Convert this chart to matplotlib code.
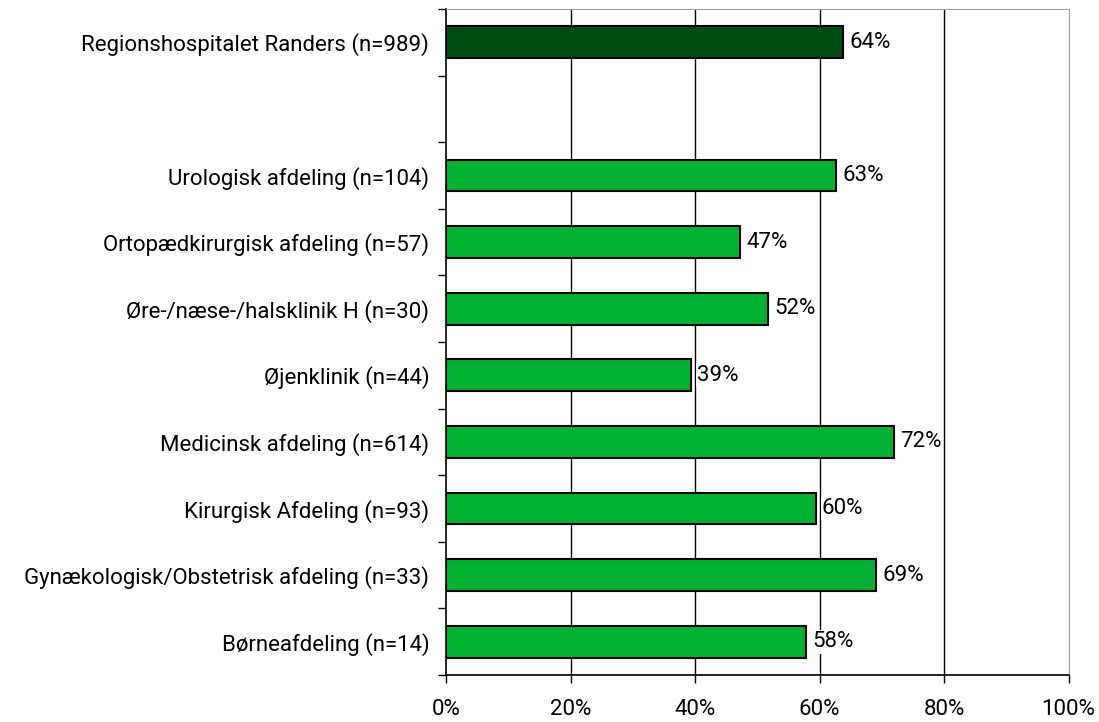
import numpy as np
import matplotlib.pyplot as plt
from matplotlib.ticker import FixedLocator, PercentFormatter

plt.rcParams['font.family'] = ['Roboto', 'DejaVu Sans']

# kategorier fra top til bund ('' = tom plads)
labels = ['Regionshospitalet Randers (n=989)', '',
          'Urologisk afdeling (n=104)',
          'Ortopædkirurgisk afdeling (n=57)',
          'Øre-/næse-/halsklinik H (n=30)',
          'Øjenklinik (n=44)',
          'Medicinsk afdeling (n=614)',
          'Kirurgisk Afdeling (n=93)',
          'Gynækologisk/Obstetrisk afdeling (n=33)',
          'Børneafdeling (n=14)']
values = [63.8, None, 62.7, 47.3, 51.8, 39.3, 72.0, 59.4, 69.1, 57.9]
value_text = ['64%', '', '63%', '47%', '52%', '39%', '72%', '60%', '69%', '58%']
colors = ['#004d14', None] + ['#00b032'] * 8

fig = plt.figure(figsize=(10.99, 7.22), dpi=100)
ax = fig.add_axes([446 / 1099, 47 / 722, 622.5 / 1099, 666 / 722])

fs = 16
n = len(labels)
ypos = np.arange(n)[::-1]
for y, v, c, t in zip(ypos, values, colors, value_text):
    if v is None:
        continue
    ax.barh(y, v, height=0.48, color=c, edgecolor='black', linewidth=1.5, zorder=3)
    ax.text(v + 1.0, y, t, va='center', ha='left', fontsize=fs,
            bbox=dict(facecolor='white', edgecolor='none', pad=1), zorder=4)

ax.set_xlim(0, 100)
ax.set_ylim(-0.5, n - 0.5)
ax.set_xticks(np.arange(0, 101, 20))
ax.xaxis.set_major_formatter(PercentFormatter(decimals=0))
ax.set_yticks(ypos)
ax.set_yticklabels(labels, fontsize=fs)
ax.yaxis.set_minor_locator(FixedLocator(np.arange(-0.5, n, 1)))
ax.tick_params(axis='y', which='major', length=0, pad=12)
ax.tick_params(axis='y', which='minor', length=6, width=1, direction='out')
ax.tick_params(axis='x', length=6, width=1, labelsize=fs, pad=11)

for x in range(20, 100, 20):
    ax.axvline(x, color='black', linewidth=1, zorder=1)

ax.spines['left'].set_color('black')
ax.spines['bottom'].set_color('black')
ax.spines['left'].set_linewidth(1.2)
ax.spines['bottom'].set_linewidth(1.2)
ax.spines['top'].set_color('#a0a0a0')
ax.spines['right'].set_color('#a0a0a0')

plt.savefig('out.png', dpi=100)
